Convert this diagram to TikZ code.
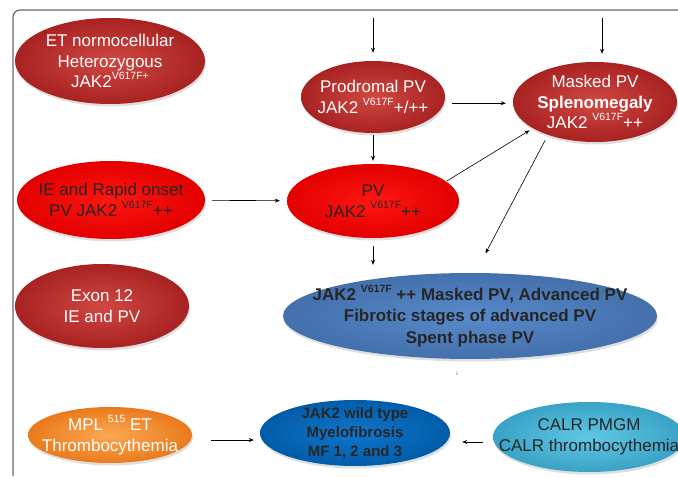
\documentclass[tikz,border=0pt]{standalone}
\usepackage{fontspec}
\setmainfont{Liberation Sans}
\usetikzlibrary{shapes.geometric, shadows, arrows.meta}
\definecolor{darkin}{RGB}{208,72,66}
\definecolor{darkout}{RGB}{168,34,34}
\definecolor{redin}{RGB}{255,22,18}
\definecolor{redout}{RGB}{226,0,0}
\definecolor{advin}{RGB}{88,138,202}
\definecolor{advout}{RGB}{68,112,172}
\definecolor{wtin}{RGB}{18,118,204}
\definecolor{wtout}{RGB}{0,92,168}
\definecolor{calrin}{RGB}{96,200,228}
\definecolor{calrout}{RGB}{58,162,198}
\definecolor{orin}{RGB}{252,168,84}
\definecolor{orout}{RGB}{234,122,28}
\definecolor{framegray}{RGB}{105,105,105}
\newcommand{\mutsup}[1]{\raisebox{0.48em}{\fontsize{10.5}{10.5}\selectfont #1}}

\begin{document}
\begin{tikzpicture}[x=1pt, y=-1pt]
	\tikzstyle{every node}+=[inner sep=0pt]
	\tikzstyle{oval}=[ellipse, drop shadow={opacity=0.25, shadow xshift=1pt, shadow yshift=-2.5pt}]
	\tikzstyle{darkoval}=[oval, inner color=darkin, outer color=darkout]
	\tikzstyle{redoval}=[oval, inner color=redin, outer color=redout]
	\tikzstyle{ovaltext}=[align=center, font=\fontsize{17}{20.5}\selectfont]
	\tikzstyle{whitetext}=[ovaltext, text=white]
	\tikzstyle{darktext}=[ovaltext, text=black!85]
	\tikzstyle{arr}=[-{Stealth[length=5pt,width=4pt]}, black, line width=0.6pt]
	\clip (0,0) rectangle (678,478);
	\draw [framegray, line width=1.2pt, rounded corners=7pt] (13,476) -- (13,10) -- (700,10);
	\node [darkoval, minimum width=190pt, minimum height=86pt, label={[whitetext]center:{ET normocellular\\Heterozygous\\JAK2\mutsup{V617F+}}}] (etn) at (110,61) {};
	\node [darkoval, minimum width=144pt, minimum height=72pt, label={[whitetext]center:{Prodromal PV\\JAK2 \mutsup{V617F}+/++}}] (prod) at (373,97) {};
	\node [darkoval, minimum width=164pt, minimum height=80pt, label={[whitetext]center:{Masked PV\\\textbf{Splenomegaly}\\JAK2 \mutsup{V617F}++}}] (masked) at (595,102) {};
	\node [redoval, minimum width=188pt, minimum height=78pt, label={[darktext]center:{IE and Rapid onset\\PV JAK2 \mutsup{V617F}++}}] (ie) at (111,200) {};
	\node [redoval, minimum width=172pt, minimum height=74pt, label={[darktext]center:{PV\\JAK2 \mutsup{V617F}++}}] (pv) at (373,201) {};
	\node [darkoval, minimum width=174pt, minimum height=84pt, label={[whitetext]center:{Exon 12\\IE and PV}}] (exon) at (102,306) {};
	\node [oval, inner color=advin, outer color=advout, minimum width=374pt, minimum height=86pt, label={[darktext, font=\fontsize{17}{21.5}\selectfont\bfseries]center:{JAK2 \mutsup{V617F} ++ Masked PV, Advanced PV\\Fibrotic stages of advanced PV\\Spent phase PV}}] (adv) at (470,316) {};
	\node [oval, inner color=orin, outer color=orout, minimum width=164pt, minimum height=56pt, label={[whitetext]center:{MPL \mutsup{515} ET\\Thrombocythemia}}] (mpl) at (110,435) {};
	\node [oval, inner color=wtin, outer color=wtout, minimum width=190pt, minimum height=66pt, label={[darktext, font=\fontsize{15}{19}\selectfont\bfseries]center:{JAK2 wild type\\Myelofibrosis\\MF 1, 2 and 3}}] (wt) at (355,433) {};
	\node [oval, inner color=calrin, outer color=calrout, minimum width=192pt, minimum height=70pt, label={[darktext]center:{CALR PMGM\\CALR thrombocythemia}}] (calr) at (589,437) {};
	\node [font=\fontsize{5}{5}\selectfont, text=gray] (mark) at (457,374) {1};
	\coordinate (prodin) at (373,18);
	\coordinate (maskin) at (602,18);
	\draw [arr, shorten >=8pt] (prodin) -- (prod.north);
	\draw [arr, shorten >=8pt] (maskin) -- (maskin |- masked.north);
	\draw [arr, shorten <=8pt, shorten >=7pt] (prod.-5) -- (prod.-5 -| masked.west);
	\draw [arr, shorten <=2pt, shorten >=3pt] (prod.south) -- (pv.north);
	\draw [arr, shorten <=7pt, shorten >=7pt] (ie) -- (pv);
	\draw [arr, shorten <=1pt, shorten >=4pt] (pv.15) -- (masked.203);
	\draw [arr, shorten <=6pt, shorten >=22pt] (masked.215) -- (adv.83);
	\draw [arr, shorten <=8pt, shorten >=8pt] (pv.south) -- (pv.south |- adv.north);
	\draw [arr, shorten <=19pt, shorten >=6pt] ([yshift=-5pt]mpl.east) -- ([yshift=-5pt]mpl.east -| wt.west);
	\draw [arr, shorten <=10pt, shorten >=12pt] ([yshift=-5pt]calr.west) -- ([yshift=-5pt]calr.west -| wt.east);
\end{tikzpicture}
\end{document}
